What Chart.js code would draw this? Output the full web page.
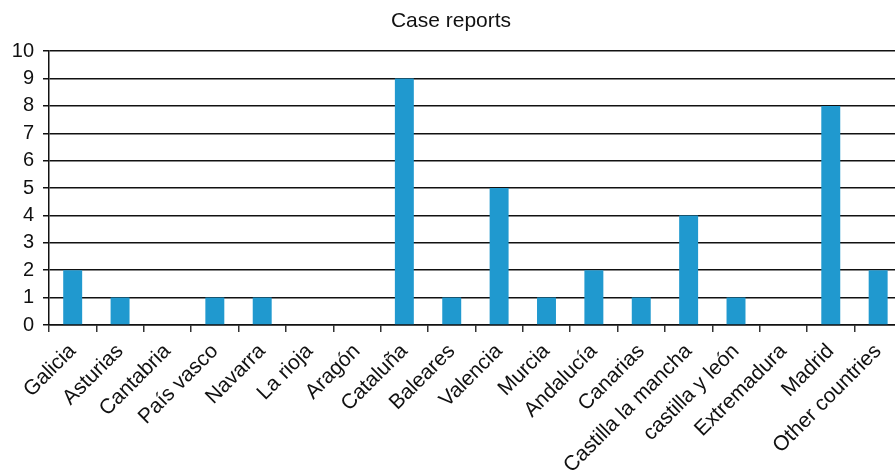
<!DOCTYPE html>
<html lang="en">
<head>
  <meta charset="UTF-8">
  <title>Case reports</title>
  <style>
    html, body { margin: 0; padding: 0; overflow: hidden; background: #fff; }
    #wrap { width: 903px; height: 473px; position: relative; }
  </style>
</head>
<body>
  <div id="wrap"><canvas id="chart"></canvas></div>

  <script src="https://cdn.jsdelivr.net/npm/chart.js"></script>
  <script>
    // Regiones y número de casos
    const regions = ["Galicia", "Asturias", "Cantabria", "País vasco", "Navarra", "La rioja", "Aragón",
      "Cataluña", "Baleares", "Valencia", "Murcia", "Andalucía", "Canarias", "Castilla la mancha",
      "castilla y león", "Extremadura", "Madrid", "Other countries"];
    const cases = [2, 1, 0, 1, 1, 0, 0, 9, 1, 5, 1, 2, 1, 4, 1, 0, 8, 2];
    const yTicks = [0, 1, 2, 3, 4, 5, 6, 7, 8, 9, 10];

    const font = "'Liberation Sans', Arial, Helvetica, sans-serif";

    new Chart(document.getElementById("chart"), {
      type: "bar",
      data: {
        labels: regions,
        datasets: [{
          label: "Case reports",
          data: cases,
          backgroundColor: "#2099cf",
          borderWidth: 0,
          categoryPercentage: 1,
          barPercentage: 0.4,
        }],
      },
      options: {
        responsive: true,
        maintainAspectRatio: false,
        animation: false,
        layout: { padding: { left: 0, right: 1, top: 0, bottom: 0 } },
        plugins: {
          legend: { display: false },
          tooltip: { enabled: false },
          title: {
            display: true,
            text: "Case reports",
            color: "#111",
            font: { family: font, size: 21, weight: "normal" },
            padding: { top: 9, bottom: 17 },
          },
        },
        scales: {
          x: {
            offset: true,
            grid: {
              offset: true,
              drawOnChartArea: false,
              drawTicks: true,
              tickLength: 7,
              color: "#333",
              lineWidth: 1.5,
            },
            border: { display: true, color: "#111", width: 1.5 },
            ticks: {
              autoSkip: false,
              maxRotation: 45,
              minRotation: 45,
              padding: 7,
              color: "#111",
              font: { family: font, size: 21 },
            },
            afterFit: function (scale) { scale.height = 148; },
          },
          y: {
            min: 0,
            max: 10,
            afterBuildTicks: function (scale) {
              scale.ticks = yTicks.map(v => ({ value: v }));
            },
            grid: {
              color: "#111",
              lineWidth: 1.5,
              tickLength: 6,
            },
            border: { display: true, color: "#111", width: 1.5 },
            ticks: {
              padding: 9,
              color: "#111",
              font: { family: font, size: 20 },
            },
            afterFit: function (scale) { scale.width = 49; },
          },
        },
      },
    });
  </script>
</body>
</html>
